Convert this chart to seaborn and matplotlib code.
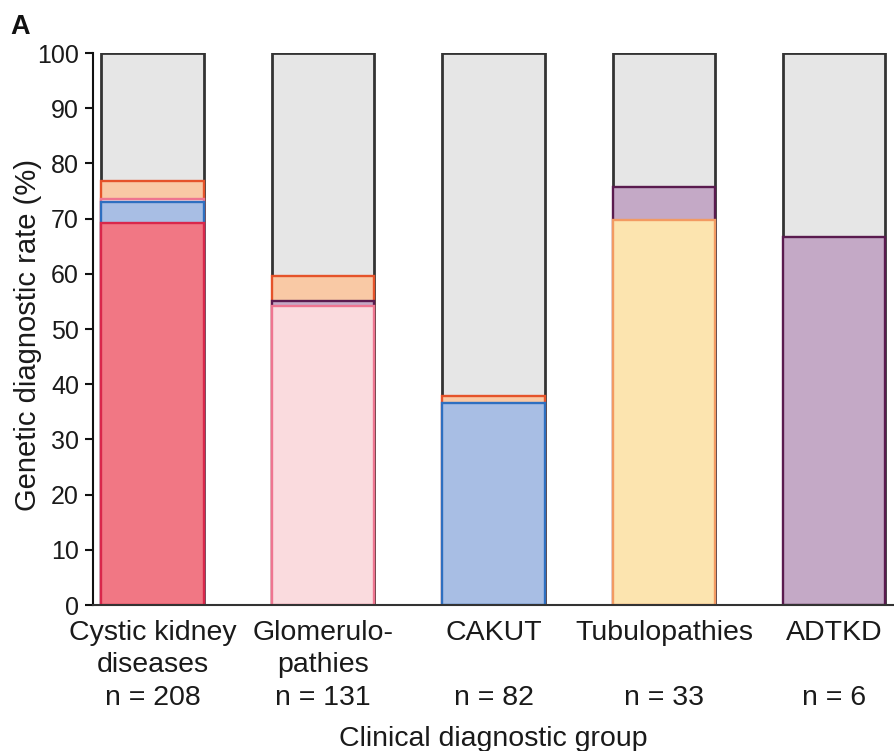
import matplotlib
matplotlib.use("Agg")
import matplotlib.pyplot as plt
import seaborn as sns
import pandas as pd
import numpy as np

# ---- data (percent of patients per clinical group) ----
groups = ["Cystic kidney\ndiseases", "Glomerulo-\npathies", "CAKUT\n", "Tubulopathies\n", "ADTKD\n"]
n_patients = [208, 131, 82, 33, 6]

# stacked segments, bottom to top
cystic_genes = [69.2, 0.0, 0.0, 0.0, 0.0]
tubulo_genes = [0.0, 0.0, 0.0, 69.7, 0.0]
cakut_genes = [3.8, 0.0, 36.6, 0.0, 0.0]
glomerulo_genes = [0.5, 54.2, 0.0, 0.0, 0.0]
adtkd_genes = [0.0, 0.8, 0.0, 6.1, 66.7]
other_genes = [3.4, 4.6, 1.2, 0.0, 0.0]

segments = [
    ("cystic", cystic_genes, "#F17784", "#D9274B"),
    ("tubulo", tubulo_genes, "#FCE4AF", "#F29A62"),
    ("cakut", cakut_genes, "#A8BEE4", "#2E6FC0"),
    ("glomerulo", glomerulo_genes, "#FADBDE", "#EE7590"),
    ("adtkd", adtkd_genes, "#C4A9C6", "#5A1B4F"),
    ("other", other_genes, "#F9C9A5", "#E5532A"),
]

sns.set_theme(style="white")
plt.rcParams["font.family"] = ["Liberation Sans", "DejaVu Sans"]

fig = plt.figure(figsize=(8.94, 7.51), dpi=100)
ax = fig.add_axes([0.104, 0.1944, 0.896, 0.735])

# grey "no diagnosis" remainder drawn first as the full 100% bar
df_total = pd.DataFrame({"group": groups, "top": [100.0] * len(groups)})
sns.barplot(data=df_total, x="group", y="top", order=groups, color="#E6E6E6",
            edgecolor="#333333", linewidth=2.0, width=0.6, errorbar=None,
            saturation=1, ax=ax)

# cumulative tops, draw from top segment down so lower ones overlay
cum = np.cumsum(np.array([s[1] for s in segments]), axis=0)
for i in range(len(segments) - 1, -1, -1):
    name, vals, fill, edge = segments[i]
    mask = np.array(vals) > 0
    df = pd.DataFrame({"group": np.array(groups)[mask], "top": cum[i][mask]})
    sns.barplot(data=df, x="group", y="top", order=groups, color=fill,
                edgecolor=edge, linewidth=1.7, width=0.6, errorbar=None,
                saturation=1, ax=ax)

ax.set_xlim(-0.35, 4.35)
ax.set_ylim(0, 100)
ax.set_yticks(np.arange(0, 101, 10))
ax.set_xticks(range(len(groups)))
ax.set_xticklabels([f"{g}\nn = {n}" for g, n in zip(groups, n_patients)],
                   fontsize=20.5, color="#1a1a1a", linespacing=1.33)
ax.tick_params(axis="x", length=0, pad=10.5)
ax.tick_params(axis="y", length=6, width=1.5, direction="out", color="#111111",
               labelsize=18, labelcolor="#1a1a1a", pad=4, left=True)
for s in ["top", "right"]:
    ax.spines[s].set_visible(False)
ax.spines["left"].set_color("#111111")
ax.spines["left"].set_linewidth(1.5)
ax.spines["bottom"].set_color("#333333")
ax.spines["bottom"].set_linewidth(1.5)

ax.set_xlabel("Clinical diagnostic group", fontsize=20.5, color="#1a1a1a")
ax.set_ylabel("Genetic diagnostic rate (%)", fontsize=21, color="#1a1a1a")
ax.xaxis.set_label_coords(0.5, -0.22)
ax.yaxis.set_label_coords(-0.064, 0.49)

fig.text(0.011, 0.982, "A", fontsize=19.5, fontweight="bold", va="top", ha="left",
         color="#111111")

fig.savefig("out.png", dpi=100)
